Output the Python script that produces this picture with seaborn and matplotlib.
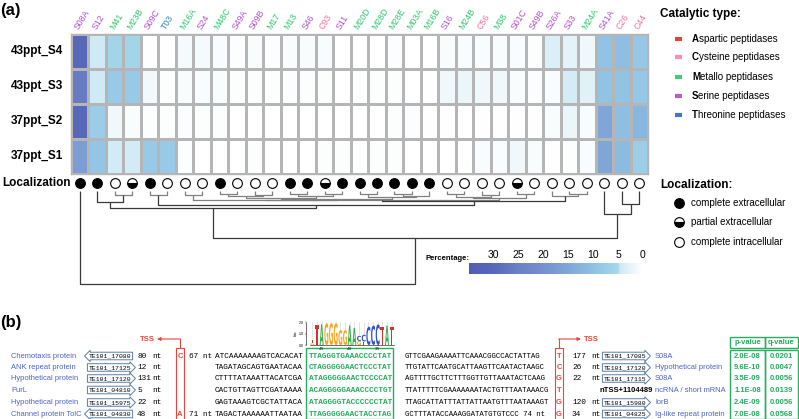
import numpy as np
import pandas as pd
import matplotlib
matplotlib.use('Agg')
import matplotlib.pyplot as plt
import seaborn as sns
from matplotlib.colors import LinearSegmentedColormap
from matplotlib.textpath import TextPath
from matplotlib.patches import PathPatch, Rectangle
from matplotlib.font_manager import FontProperties
import matplotlib.transforms as mtransforms

plt.rcParams['font.family'] = ['Liberation Sans', 'DejaVu Sans']
MONO = 'Liberation Mono'

# ---------------- data: panel (a) ----------------
peptidases = ["S08A", "S12", "M41", "M23B", "S09C", "T03", "M16A", "S24", "M48C", "S49A",
              "S09B", "M17", "M13", "S46", "C93", "S11", "M20D", "M28D", "M28E", "M03A",
              "M16B", "S16", "M24B", "C56", "M38", "S01C", "S49B", "S26A", "S33", "M24A",
              "S41A", "C26", "C44"]
samples = ["43ppt_S4", "43ppt_S3", "37ppt_S2", "37ppt_S1"]
pct_43ppt_S4 = [30, 4.4, 6.0, 6.0, 0.2, 0.2, 1.0, 1.0, 0.6, 0.3, 0.8, 0.5, 0.8, 0.8, 0.6, 0.0,
                0.0, 0.1, 0.5, 0.0, 0.0, 0.8, 0.6, 0.6, 0.8, 0.6, 0.3, 3.5, 2.5, 1.5, 9.5, 10.5, 8.5]
pct_43ppt_S3 = [26, 4.5, 8.0, 8.0, 1.3, 0.4, 0.8, 0.6, 0.8, 0.4, 0.3, 0.3, 0.5, 0.3, 0.3, 0.1,
                0.3, 0.3, 0.3, 0.1, 0.2, 1.5, 2.0, 1.5, 1.5, 0.8, 0.5, 0.6, 4.0, 3.0, 9.5, 9.5, 8.5]
pct_37ppt_S2 = [30, 7.5, 1.5, 0.8, 0.3, 0.3, 0.5, 0.3, 0.3, 0.0, 0.0, 0.0, 0.0, 0.0, 0.0, 0.0,
                0.0, 0.0, 0.3, 0.5, 0.2, 0.2, 0.0, 0.2, 0.2, 0.2, 0.2, 0.8, 2.0, 0.6, 15, 10.5, 12]
pct_37ppt_S1 = [17, 9.0, 4.2, 4.2, 8.0, 8.0, 0.5, 0.0, 0.0, 0.0, 0.3, 0.0, 0.0, 0.0, 0.3, 0.4,
                0.3, 0.3, 0.3, 0.0, 0.0, 0.0, 0.0, 0.6, 0.6, 1.5, 0.8, 0.2, 0.3, 0.6, 15, 11, 7]
# E = complete extracellular, P = partial extracellular, I = complete intracellular
localization = list("EEIPEIIIEIIIEEPEEEEEE" + "IIIIPIIIIIII")
# dendrogram linkage: (child_a, child_b, height); ids >= 33 refer to earlier merges
linkage = [(2, 3, 4), (1, 33, 11), (4, 5, 4), (6, 7, 4), (8, 9, 3), (10, 11, 4), (12, 13, 3),
           (14, 15, 3), (16, 17, 3), (18, 19, 3), (42, 20, 5), (21, 22, 3), (23, 24, 4),
           (25, 26, 3), (37, 38, 5), (39, 40, 4.5), (47, 48, 6.5), (41, 43, 5.5), (49, 50, 7.5),
           (36, 51, 8.5), (44, 45, 6), (53, 46, 7), (52, 54, 9), (28, 29, 3), (27, 56, 5),
           (55, 57, 10), (35, 58, 14), (34, 59, 17), (31, 32, 13), (30, 61, 23), (60, 62, 47),
           (0, 63, 93)]
cat_types = ["Aspartic peptidases", "Cysteine peptidases", "Metallo peptidases",
             "Serine peptidases", "Threonine peptidases"]
cat_colors = {"A": "#e8413c", "C": "#ff8db2", "M": "#3ccf7a", "S": "#b35ec9", "T": "#3b7cc0"}
label_colors = {"A": "#e8413c", "C": "#ff6f9e", "M": "#2fc96c", "S": "#b04fcc", "T": "#3a80c6"}
loc_names = ["complete extracellular", "partial extracellular", "complete intracellular"]
cbar_ticks = [0, 5, 10, 15, 20, 25, 30]

# ---------------- data: panel (b) ----------------
left_proteins = ["Chemotaxis protein", "ANK repeat protein", "Hypothetical protein", "PurL",
                 "Hypothetical protein", "Channel protein TolC"]
left_genes = ["TE101_17080", "TE101_17125", "TE101_17120", "TE101_04810", "TE101_15975", "TE101_04830"]
left_dirs = ["L", "R", "R", "R", "R", "L"]
left_dist = ["80", "12", "131", "5", "22", "48"]
left_tss = ["C", "", "", "", "", "A"]
left_gap = ["67 nt", "", "", "", "", "71 nt"]
pre_seq = ["ATCAAAAAAAGTCACACAT", "TAGATAGCAGTGAATACAA", "CTTTTATAAATTACATCGA",
           "CACTGTTAGTTCGATAAAA", "GAGTAAAGTCGCTATTACA", "TAGACTAAAAAATTAATAA"]
motif_seq = ["TTAGGGTGAAACCCCTAT", "CTAGGGGGAACTCCCTAT", "ATAGGGGGAACTCCCCAT",
             "ACAGGGGGAAACCCCTGT", "ATAGGGGTACCCCCCTAT", "TTAGGGGGAACTACCTAG"]
post_seq = ["GTTCGAAGAAAATTCAAACGGCCACTATTAG", "TTGTATTCAATGCATTAAGTTCAATACTAAGC",
            "AGTTTTGCTTCTTTGGTTGTTAAATACTCAAG", "TTATTTTTCGAAAAAAATACTGTTTAATAAACG",
            "TTAGCATTATTTATTATTAATGTTTAATAAAGT", "GCTTTATACCAAAGGATATGTGTCCC 74 nt"]
right_tss = ["T", "C", "G", "T", "G", "G"]
right_dist = ["177", "26", "22", "", "120", "34"]
right_genes = ["TE101_17085", "TE101_17120", "TE101_17115", "", "TE101_15980", "TE101_04825"]
right_proteins = ["S08A", "Hypothetical protein", "S08A", "ncRNA / short mRNA", "lorB",
                  "Ig-like repeat protein"]
right_note = ["", "", "", "nTSS+1104489", "", ""]
p_values = ["2.0E-08", "9.6E-10", "3.5E-09", "1.1E-08", "2.4E-09", "7.0E-08"]
q_values = ["0.0201", "0.0047", "0.0056", "0.0139", "0.0056", "0.0568"]
logo_stacks = [[("G", 0.15), ("T", 0.3)], [("T", 1.7)], [("A", 1.8)], [("G", 1.9)], [("G", 1.9)],
               [("G", 1.9)], [("G", 1.3)], [("G", 1.3)], [("A", 1.7)], [("A", 1.5)],
               [("G", 0.35), ("C", 0.45)], [("T", 0.3), ("C", 0.6)], [("C", 1.6)], [("C", 1.7)],
               [("C", 1.8)], [("T", 1.6)], [("A", 1.7)], [("T", 1.6)]]
logo_colors = {"A": "#32b04a", "C": "#3353c8", "G": "#f5a623", "T": "#d9302c"}

# ---------------- figure ----------------
W, H = 799, 419
fig = plt.figure(figsize=(W / 100, H / 100), dpi=100)


def add_ax(x0, y0, x1, y1, **kw):
    return fig.add_axes([x0 / W, 1 - y1 / H, (x1 - x0) / W, (y1 - y0) / H], **kw)


ax_o = fig.add_axes([0, 0, 1, 1])
ax_o.set_xlim(0, W)
ax_o.set_ylim(H, 0)
ax_o.axis('off')

cmap = LinearSegmentedColormap.from_list("pct", [
    (0.0, "#ffffff"), (4.6 / 35, "#cde9f4"), (5.0 / 35, "#a6d8ec"), (10 / 35, "#8fc0e3"),
    (15 / 35, "#80a6d8"), (20 / 35, "#7590cf"), (25 / 35, "#6a80c4"), (30 / 35, "#5868b9"),
    (1.0, "#4f5cb4")])

df = pd.DataFrame([pct_43ppt_S4, pct_43ppt_S3, pct_37ppt_S2, pct_37ppt_S1],
                  index=samples, columns=peptidases)
ax_h = add_ax(71, 34, 648, 174)
cax = add_ax(469, 263, 643, 274)
sns.heatmap(df, ax=ax_h, cmap=cmap, vmin=0, vmax=35, linewidths=1, linecolor='#b5b5b5',
            cbar=True, cbar_ax=cax, cbar_kws={'orientation': 'horizontal', 'ticks': cbar_ticks})
ax_h.set_xticks([])
ax_h.set_xlabel('')
ax_h.set_ylabel('')
ax_h.set_yticks(np.arange(len(samples)) + 0.5)
ax_h.set_yticklabels(samples, rotation=0, fontweight='bold', fontsize=8.5)
ax_h.tick_params(axis='y', length=0, pad=5.5)
for sp in ax_h.spines.values():
    sp.set_visible(True)
    sp.set_color('#b5b5b5')
    sp.set_linewidth(1)
for i, name in enumerate(peptidases):
    ax_h.text(i + 0.45, -0.12, name, rotation=58, rotation_mode='anchor', ha='left',
              va='baseline', color=label_colors[name[0]], fontsize=6.3, clip_on=False)

cb = ax_h.collections[0].colorbar
cb.outline.set_visible(False)
cax.invert_xaxis()
cax.xaxis.set_ticks_position('top')
cax.tick_params(length=0, labelsize=7.5, pad=2)
ax_o.text(425, 258, "Percentage:", fontsize=5.5, fontweight='bold', va='center', ha='left')

# localization markers + dendrogram
ax_d = add_ax(71, 176, 648, 290)
ax_d.set_xlim(0, len(peptidases))
ax_d.set_ylim(99, -15)
ax_d.axis('off')
marker_style = {
    "E": dict(marker='o', mfc='black', mec='black'),
    "P": dict(marker='o', fillstyle='bottom', mfc='black', mfcalt='white', mec='black'),
    "I": dict(marker='o', mfc='white', mec='black'),
}
for i, loc in enumerate(localization):
    ax_d.plot([i + 0.5], [-8], ms=7, mew=0.8, linestyle='none', **marker_style[loc])

pos = {i: (i + 0.5, 0.0) for i in range(len(peptidases))}
n = len(peptidases)
for k, (a, b, h) in enumerate(linkage):
    xa, ha_ = pos[a]
    xb, hb = pos[b]
    col = '#808080' if h < 9.5 else '#3a3a3a'
    ax_d.plot([xa, xa, xb, xb], [ha_, h, h, hb], color=col, lw=0.9, solid_capstyle='butt')
    pos[n + k] = ((xa + xb) / 2, h)

ax_o.text(70.5, 183, "Localization", fontsize=8.5, fontweight='bold', ha='right', va='center')

# legends
ax_o.text(0, 10, "(a)", fontsize=12, fontweight='bold', ha='left', va='center')
ax_o.text(660, 14, "Catalytic type:", fontsize=8.5, fontweight='bold', ha='left', va='center')
leg_y = [39, 57.5, 77, 96, 115]
for name, y in zip(cat_types, leg_y):
    ax_o.plot([675, 682], [y, y], color=cat_colors[name[0]], lw=3, solid_capstyle='butt')
    t = ax_o.text(692, y, name[0], fontsize=7, fontweight='bold', ha='left', va='center')
    ax_o.annotate(name[1:], xy=(1, 0.5), xycoords=t, fontsize=7, ha='left', va='center')

ax_o.text(660, 185, "Localization:", fontsize=8.5, fontweight='bold', ha='left', va='center')
for loc, name, y in zip("EPI", loc_names, [203, 222, 242]):
    ax_o.plot([679], [y], ms=7, mew=0.8, linestyle='none', **marker_style[loc])
    ax_o.text(691, y, name, fontsize=7, ha='left', va='center')

# ---------------- panel (b) ----------------
RED = '#e8453c'
GREEN = '#26ad5e'
BLUE = '#4a62c8'
rows_y = [356, 367.5, 378.5, 390, 402.5, 414]
ax_o.text(0, 322, "(b)", fontsize=12, fontweight='bold', ha='left', va='center')

for r, y in enumerate(rows_y):
    ax_o.text(11, y, left_proteins[r], fontsize=5.4, color=BLUE, ha='left', va='center')
    style = 'larrow,pad=0.2' if left_dirs[r] == 'L' else 'rarrow,pad=0.2'
    ax_o.text(110, y, left_genes[r], fontsize=4.6, family=MONO, ha='center', va='center',
              bbox=dict(boxstyle=style, fc='white', ec='#5b7fa6', lw=0.7))
    ax_o.text(137, y, left_dist[r], fontsize=5.6, family=MONO, ha='left', va='center')
    ax_o.text(152, y, "nt", fontsize=5.6, family=MONO, ha='left', va='center')
    ax_o.text(180, y, left_tss[r], fontsize=5.5, fontweight='bold', color=RED, ha='center', va='center')
    ax_o.text(189, y, left_gap[r], fontsize=5.6, family=MONO, ha='left', va='center')
    ax_o.text(215, y, pre_seq[r], fontsize=5.6, family=MONO, ha='left', va='center')
    ax_o.text(309, y, motif_seq[r], fontsize=5.6, family=MONO, fontweight='bold', color=GREEN,
              ha='left', va='center')
    ax_o.text(405, y, post_seq[r], fontsize=5.3, family=MONO, ha='left', va='center')
    ax_o.text(559, y, right_tss[r], fontsize=5.5, fontweight='bold', color=RED, ha='center', va='center')
    if right_dist[r]:
        ax_o.text(572, y, right_dist[r], fontsize=5.6, family=MONO, ha='left', va='center')
        ax_o.text(591, y, "nt", fontsize=5.6, family=MONO, ha='left', va='center')
    if right_genes[r]:
        ax_o.text(625, y, right_genes[r], fontsize=4.6, family=MONO, ha='center', va='center',
                  bbox=dict(boxstyle='rarrow,pad=0.2', fc='white', ec='#5b7fa6', lw=0.7))
    if right_note[r]:
        ax_o.text(653, y, right_note[r], fontsize=5.5, fontweight='bold', ha='right', va='center')
    ax_o.text(655, y, right_proteins[r], fontsize=5.4, color=BLUE, ha='left', va='center')
    ax_o.text(747.5, y, p_values[r], fontsize=5.5, fontweight='bold', color=GREEN, ha='center', va='center')
    ax_o.text(781.5, y, q_values[r], fontsize=5.5, fontweight='bold', color=GREEN, ha='center', va='center')

# TSS boxes and arrows
ax_o.add_patch(Rectangle((176, 348), 8, 71, fill=False, ec=RED, lw=0.8))
ax_o.add_patch(Rectangle((555, 348), 8, 71, fill=False, ec=RED, lw=0.8))
ax_o.plot([180, 180], [348, 339], color=RED, lw=0.8)
ax_o.annotate('', xy=(157, 339), xytext=(180.4, 339),
              arrowprops=dict(arrowstyle='-|>', color=RED, lw=0.8, mutation_scale=5, shrinkA=0, shrinkB=0))
ax_o.text(155, 339, "TSS", fontsize=5.5, fontweight='bold', color=RED, ha='right', va='center')
ax_o.plot([559, 559], [348, 339], color=RED, lw=0.8)
ax_o.annotate('', xy=(581, 339), xytext=(558.6, 339),
              arrowprops=dict(arrowstyle='-|>', color=RED, lw=0.8, mutation_scale=5, shrinkA=0, shrinkB=0))
ax_o.text(584, 339, "TSS", fontsize=5.5, fontweight='bold', color=RED, ha='left', va='center')
# motif box
ax_o.add_patch(Rectangle((306, 348), 87, 71, fill=False, ec=GREEN, lw=1))
# table
for (x0, w) in [(730, 34.5), (764.5, 33.5)]:
    ax_o.add_patch(Rectangle((x0, 337), w, 10.5, fill=False, ec=GREEN, lw=1))
    ax_o.add_patch(Rectangle((x0, 349.5), w, 69, fill=False, ec=GREEN, lw=1))
ax_o.text(747.5, 342.3, "p-value", fontsize=5.5, fontweight='bold', color=GREEN, ha='center', va='center')
ax_o.text(781.5, 342.3, "q-value", fontsize=5.5, fontweight='bold', color=GREEN, ha='center', va='center')

# sequence logo
ax_l = add_ax(310, 322, 394, 345)
ax_l.set_xlim(0, len(logo_stacks))
ax_l.set_ylim(0, 2)
fp = FontProperties(family='DejaVu Sans', weight='bold')
for j, stack in enumerate(logo_stacks):
    base = 0.0
    for letter, hgt in stack:
        tp = TextPath((0, 0), letter, size=1, prop=fp)
        bb = tp.get_extents()
        tr = (mtransforms.Affine2D().translate(-bb.x0, -bb.y0)
              .scale(0.85 / bb.width, hgt / bb.height).translate(j + 0.075, base))
        ax_l.add_patch(PathPatch(tr.transform_path(tp), fc=logo_colors[letter], ec='none'))
        base += hgt
    ax_l.plot([j + 0.5, j + 0.5], [base + 0.05, 2.0], color='#d0d0d0', lw=0.4)
for side in ['top', 'right']:
    ax_l.spines[side].set_visible(False)
ax_l.spines['left'].set_position(('outward', 3))
ax_l.spines['left'].set_linewidth(0.4)
ax_l.spines['bottom'].set_linewidth(0.4)
ax_l.set_yticks([0, 1, 2])
ax_l.set_yticklabels(["0.0", "1.0", "2.0"])
ax_l.set_xticks([2.5, 8.5, 14.5])
ax_l.set_xticklabels(["-45", "-40", "-35"])
ax_l.tick_params(labelsize=2.5, length=1, width=0.3, pad=0.5)
ax_l.set_ylabel("bits", fontsize=2.5, labelpad=0.5)
ax_l.patch.set_alpha(0)

fig.savefig("out.png", dpi=100)
